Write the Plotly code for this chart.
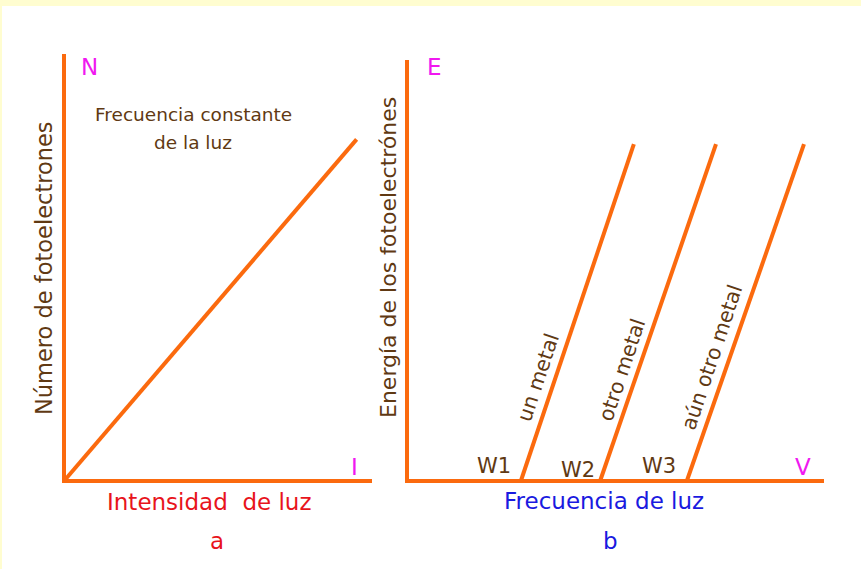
import plotly.graph_objects as go

W, H = 861, 569

# chart a: number of photoelectrons vs light intensity (constant frequency)
intensity = [0, 9.5]
n_electrons = [0, 8.0]

# chart b: photoelectron energy vs light frequency for three metals
metals = ["un metal", "otro metal", "aún otro metal"]
thresholds = [2.73, 4.63, 6.71]
freq_end = [5.44, 7.41, 9.52]
energy_end = [8.0, 8.0, 8.0]
w_labels = ["W1", "W2", "W3"]

ORANGE = "#fb6a0e"
BROWN = "#603913"
MAGENTA = "#f018f0"
RED = "#e8141c"
BLUE = "#1a1ae0"
FONT = "DejaVu Sans"
PAD = 4  # px of room so the thick axis strokes are not clipped


def px(x):
    return x / W


def py(y):
    return 1 - y / H


def axis_pair(left, right, bottom, top):
    # data 0..10 sits on the pixel box, with a little padding around it
    ux = 10 / (right - left)
    uy = 10 / (bottom - top)
    xa = dict(domain=[px(left - PAD), px(right + PAD)], range=[-PAD * ux, 10 + PAD * ux])
    ya = dict(domain=[py(bottom + PAD), py(top - PAD)], range=[-PAD * uy, 10 + PAD * uy])
    return xa, ya


fig = go.Figure()

line = dict(color=ORANGE, width=4)

# axes drawn as L shapes
fig.add_trace(go.Scatter(x=[0, 0, 10], y=[10, 0, 0], mode="lines", line=line,
                         xaxis="x", yaxis="y", hoverinfo="skip"))
fig.add_trace(go.Scatter(x=[0, 0, 10], y=[10, 0, 0], mode="lines", line=line,
                         xaxis="x2", yaxis="y2", hoverinfo="skip"))

fig.add_trace(go.Scatter(x=intensity, y=n_electrons, mode="lines", line=line,
                         xaxis="x", yaxis="y"))

for w, fe, ee in zip(thresholds, freq_end, energy_end):
    fig.add_trace(go.Scatter(x=[w, fe], y=[0, ee], mode="lines", line=line,
                             xaxis="x2", yaxis="y2"))

ann = []


def txt(x, y, s, color, size, angle=0):
    ann.append(dict(x=px(x), y=py(y), xref="paper", yref="paper", text=s,
                    showarrow=False, textangle=angle, xanchor="center", yanchor="middle",
                    font=dict(family=FONT, size=size, color=color)))


# chart a labels
txt(89, 67, "N", MAGENTA, 23)
txt(193, 115, "Frecuencia constante", BROWN, 18.5)
txt(193, 142, "de la luz", BROWN, 18.5)
txt(44, 268, "Número de fotoelectrones", BROWN, 22.5, -90)
txt(354, 467, "I", MAGENTA, 23)
txt(209, 502, "Intensidad \u00a0de luz", RED, 23)
txt(217, 541, "a", RED, 23)

# chart b labels
txt(435, 67, "E", MAGENTA, 23)
txt(388, 258, "Energía de los fotoelectrónes", BROWN, 22, -90)
txt(803, 467, "V", MAGENTA, 23)
txt(604, 501, "Frecuencia de luz", BLUE, 23)
txt(610, 541, "b", BLUE, 23)

for (x, y), s in zip([(494, 466), (578, 470), (659, 466)], w_labels):
    txt(x, y, s, BROWN, 21)

for (x, y), s in zip([(538, 378), (622, 370), (712, 357)], metals):
    txt(x, y, s, BROWN, 20.5, -71.5)

hidden = dict(showgrid=False, zeroline=False, showticklabels=False,
              ticks="", showline=False, fixedrange=True)

xa, ya = axis_pair(64, 372, 481, 54)
xb, yb = axis_pair(407, 824, 481, 60)

fig.update_layout(
    width=W, height=H,
    margin=dict(l=0, r=0, t=0, b=0),
    paper_bgcolor="white", plot_bgcolor="rgba(0,0,0,0)",
    showlegend=False,
    xaxis=dict(anchor="y", **xa, **hidden),
    yaxis=dict(anchor="x", **ya, **hidden),
    xaxis2=dict(anchor="y2", **xb, **hidden),
    yaxis2=dict(anchor="x2", **yb, **hidden),
    annotations=ann,
    shapes=[
        dict(type="rect", xref="paper", yref="paper", x0=0, x1=1, y0=py(6), y1=1,
             fillcolor="#fffdd0", line=dict(width=0), layer="below"),
        dict(type="rect", xref="paper", yref="paper", x0=0, x1=px(2), y0=0, y1=1,
             fillcolor="#fffdd0", line=dict(width=0), layer="below"),
    ],
)

fig.write_html("out.html", config={"displayModeBar": False},
               post_script="document.body.style.margin='0';")
